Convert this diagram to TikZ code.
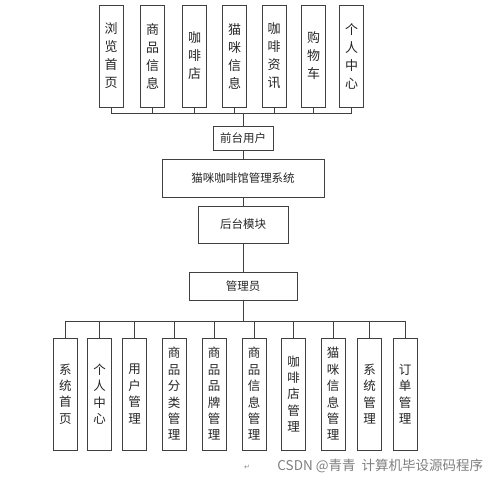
\documentclass[tikz,border=0pt]{standalone}
\usepackage{fontspec}
\newfontfamily\cjk{Noto Sans CJK SC}
\newfontfamily\symfont{DejaVu Sans}
\usepackage{tikz}
\tikzset{box/.style={shape=rectangle,draw=black!75,line width=0.9pt,inner sep=0pt,outer sep=0pt,align=center,text=black!85}}
\tikzset{tall/.style={box,minimum width=24pt,minimum height=102pt,font=\cjk\fontsize{13}{18}\selectfont}}
\tikzset{low/.style={box,minimum width=24pt,minimum height=112pt,font=\cjk\fontsize{12.5}{16.4}\selectfont}}
\tikzset{wide/.style={box,font=\cjk\fontsize{11.5}{14}\selectfont}}

\begin{document}
\begin{tikzpicture}[x=1pt,y=-1pt,line width=0.9pt,draw=black!75]
    \useasboundingbox[fill=white] (0,0) rectangle (499,481);

    \node[tall] (A) at (111,56) {浏\\览\\首\\页};
    \node[tall] (B) at (152.5,56) {商\\品\\信\\息};
    \node[tall] (C) at (194.5,56) {咖\\啡\\店};
    \node[tall] (D) at (234.5,56) {猫\\咪\\信\\息};
    \node[tall] (E) at (274,56) {咖\\啡\\资\\讯};
    \node[tall] (F) at (313.5,56) {购\\物\\车};
    \node[tall] (G) at (351.5,56) {个\\人\\中\\心};

    \node[wide,minimum width=60pt,minimum height=24pt] (H) at (243,138) {前台用户};
    \node[wide,minimum width=162pt,minimum height=38pt] (I) at (243,178) {猫咪咖啡馆管理系统};
    \node[wide,minimum width=90pt,minimum height=37pt] (J) at (243,224.5) {后台模块};
    \node[wide,minimum width=108pt,minimum height=28pt] (K) at (243,286) {管理员};

    \node[low] (L) at (65.5,394) {系\\统\\首\\页};
    \node[low] (M) at (99.5,394) {个\\人\\中\\心};
    \node[low] (N) at (134.5,394) {用\\户\\管\\理};
    \node[low] (O) at (174,394) {商\\品\\分\\类\\管\\理};
    \node[low] (P) at (214,394) {商\\品\\品\\牌\\管\\理};
    \node[low] (Q) at (254,394) {商\\品\\信\\息\\管\\理};
    \node[low] (R) at (293.5,394) {咖\\啡\\店\\管\\理};
    \node[low] (S) at (333,394) {猫\\咪\\信\\息\\管\\理};
    \node[low] (T) at (369.5,394) {系\\统\\管\\理};
    \node[low] (U) at (405,394) {订\\单\\管\\理};

    \node[text=black!45,font=\symfont\fontsize{7}{8}\selectfont] (V) at (247,467) {↵};
    \node[anchor=west,inner sep=0pt,text=black!50,font=\cjk\fontsize{13.5}{15}\selectfont] (W) at (277,466) {CSDN @青青\ \ 计算机毕设源码程序};

    \draw (A.south) -- ++(0,6) -| (H.north);
    \draw (B.south) -- ++(0,6) -| (H.north);
    \draw (C.south) -- ++(0,6) -| (H.north);
    \draw (D.south) -- ++(0,6) -| (H.north);
    \draw (E.south) -- ++(0,6) -| (H.north);
    \draw (F.south) -- ++(0,6) -| (H.north);
    \draw (G.south) -- ++(0,6) -| (H.north);
    \draw (H) -- (I);
    \draw (I) -- (J);
    \draw (J) -- (K);
    \draw (K.south) -- ++(0,21) -| (L.north);
    \draw (K.south) -- ++(0,21) -| (M.north);
    \draw (K.south) -- ++(0,21) -| (N.north);
    \draw (K.south) -- ++(0,21) -| (O.north);
    \draw (K.south) -- ++(0,21) -| (P.north);
    \draw (K.south) -- ++(0,21) -| (Q.north);
    \draw (K.south) -- ++(0,21) -| (R.north);
    \draw (K.south) -- ++(0,21) -| (S.north);
    \draw (K.south) -- ++(0,21) -| (T.north);
    \draw (K.south) -- ++(0,21) -| (U.north);
\end{tikzpicture}
\end{document}
